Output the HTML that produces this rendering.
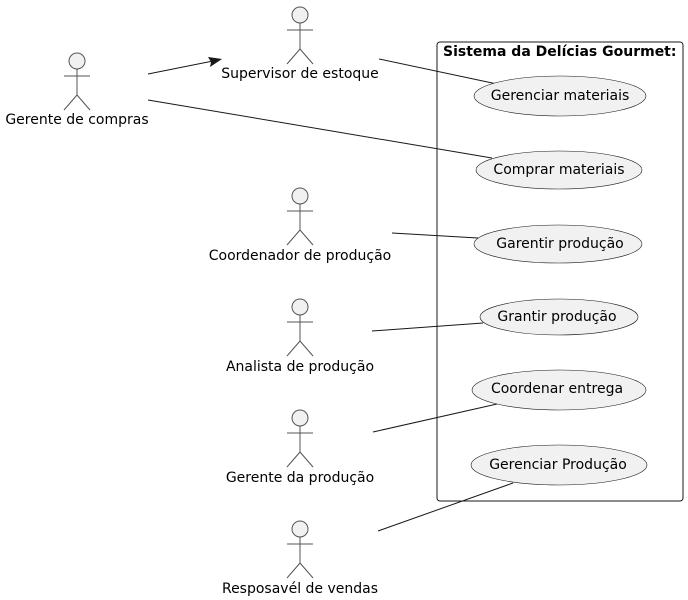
<!DOCTYPE html>
<html><head><meta charset="utf-8"><style>
html,body{margin:0;padding:0;background:#fff;}
svg{display:block;font-family:"DejaVu Sans","Liberation Sans",sans-serif;}
</style></head><body>
<svg width="688" height="600" viewBox="0 0 688 600" xmlns="http://www.w3.org/2000/svg">
<defs>
<g id="actor" fill="none" stroke="#555" stroke-width="1">
<circle cx="0" cy="0" r="8" fill="#f1f1f1" stroke="#555"/>
<line x1="0" y1="8" x2="0" y2="34"/>
<line x1="-13" y1="15" x2="13" y2="15"/>
<line x1="0" y1="34" x2="-13" y2="49"/>
<line x1="0" y1="34" x2="13" y2="49"/>
</g>
</defs>
<rect x="437" y="42" width="246" height="459" rx="3" fill="none" stroke="#181818" stroke-width="1"/>
<text x="443" y="56" font-size="14" font-weight="bold" fill="#000">Sistema da Delícias Gourmet:</text>

<g stroke="#181818" stroke-width="1" fill="none">
<line x1="148" y1="74" x2="218" y2="60"/>
<line x1="379" y1="59" x2="497" y2="84"/>
<line x1="148" y1="100" x2="492" y2="158"/>
<line x1="392" y1="233" x2="478" y2="238"/>
<line x1="372" y1="331" x2="483" y2="323"/>
<line x1="373" y1="432" x2="497" y2="404"/>
<line x1="378" y1="531" x2="513" y2="483"/>
</g>
<path d="M222,59 L208,57 L211,62 L210,67 Z" fill="#181818"/>

<g fill="#f1f1f1" stroke="#181818" stroke-width="0.6">
<ellipse cx="560" cy="96" rx="86" ry="20"/>
<ellipse cx="559" cy="170" rx="83" ry="19"/>
<ellipse cx="558" cy="244" rx="84" ry="19"/>
<ellipse cx="559" cy="317" rx="79" ry="18"/>
<ellipse cx="559" cy="390" rx="87" ry="20"/>
<ellipse cx="559" cy="465" rx="88" ry="20"/>
</g>
<g font-size="14" fill="#000" text-anchor="middle">
<text x="560" y="100">Gerenciar materiais</text>
<text x="559" y="174">Comprar materiais</text>
<text x="560" y="248">Garentir produção</text>
<text x="557" y="321">Grantir produção</text>
<text x="557" y="393">Coordenar entrega</text>
<text x="558" y="469">Gerenciar Produção</text>
</g>

<use href="#actor" x="77" y="61"/>
<use href="#actor" x="300" y="15"/>
<use href="#actor" x="300" y="196"/>
<use href="#actor" x="300" y="307"/>
<use href="#actor" x="300" y="418"/>
<use href="#actor" x="300" y="529"/>
<g font-size="14" fill="#000" text-anchor="middle">
<text x="77" y="124">Gerente de compras</text>
<text x="300" y="78">Supervisor de estoque</text>
<text x="300" y="260">Coordenador de produção</text>
<text x="300" y="371">Analista de produção</text>
<text x="300" y="482">Gerente da produção</text>
<text x="300" y="593">Resposavél de vendas</text>
</g>
</svg>
</body></html>
